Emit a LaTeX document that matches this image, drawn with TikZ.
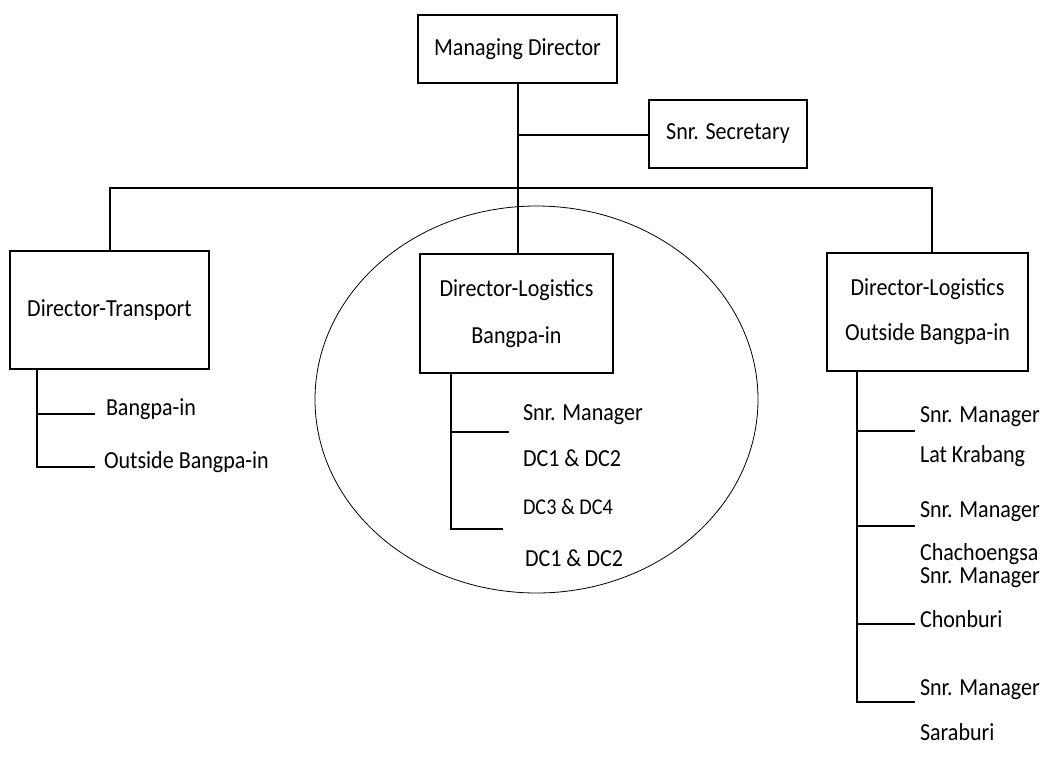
\documentclass[tikz,border=0pt]{standalone}
\usepackage{fontspec}
\setmainfont[FakeStretch=0.9]{Carlito}
\begin{document}
\begin{tikzpicture}[x=1pt,y=-1pt,
  every node/.style={font=\fontsize{24.5}{28}\selectfont, inner sep=0pt, outer sep=0pt},
  box/.style={draw, line width=1.1pt, align=center},
  lbl/.style={anchor=base west},
  small/.style={anchor=base west, font=\fontsize{22.5}{26}\selectfont},
  conn/.style={line width=1.1pt},
  oval/.style={line width=0.8pt}]
\useasboundingbox (0,0) rectangle (1052,763);
% oval around Bangpa-in logistics
\draw[oval] (536.5,399.5) ellipse [x radius=221.5pt, y radius=193.5pt];
% boxes
\node[box, minimum width=199pt, minimum height=68pt] (md) at (517.5,49) {Managing Director};
\node[box, minimum width=158pt, minimum height=68pt] (sec) at (728,134) {Snr. Secretary};
\node[box, minimum width=199pt, minimum height=118pt] (dt) at (109.5,310) {Director-Transport};
\node[box, minimum width=193pt, minimum height=119pt, font=\fontsize{24.5}{47}\selectfont] (dlb) at (516.5,313.5) {Director-Logistics\\Bangpa-in};
\node[box, minimum width=201pt, minimum height=118pt, font=\fontsize{24.5}{45}\selectfont] (dlo) at (927.5,312) {Director-Logistics\\Outside Bangpa-in};
% bus
\coordinate (busL) at (110,188);
\coordinate (busM) at (518,188);
\coordinate (busR) at (932,188);
\coordinate (secJ) at (518,135);
\draw[conn] (md.south -| busM) -- (dlb.north -| busM);
\draw[conn] (secJ) -- (sec.west |- secJ);
\draw[conn] (dt.north -| busL) -- (busL) -- (busR) -- (dlo.north -| busR);
% transport sub-units
\node[lbl] (t1) at (106,415) {Bangpa-in};
\node[lbl] (t2) at (104,468) {Outside Bangpa-in};
\coordinate (ta) at (37,414);
\coordinate (tb) at (37,467);
\draw[conn] (dt.south -| ta) -- (tb) -- (95,467);
\draw[conn] (ta) -- (95,414);
% Bangpa-in logistics sub-units
\node[lbl] (b1) at (523,420) {Snr. Manager};
\node[lbl] (b2) at (523,466) {DC1 \& DC2};
\node[small] (b3) at (523,514) {DC3 \& DC4};
\node[lbl] (b4) at (525,566) {DC1 \& DC2};
\coordinate (ba) at (451,432);
\coordinate (bb) at (451,529);
\draw[conn] (dlb.south -| ba) -- (bb) -- (503,529);
\draw[conn] (ba) -- (509,432);
% outside Bangpa-in sub-units
\node[lbl] (o1) at (920,422) {Snr. Manager};
\node[lbl] (o2) at (920,462) {Lat Krabang};
\node[lbl] (o3) at (920,517) {Snr. Manager};
\node[lbl] (o4) at (920,560) {Chachoengsa};
\node[lbl] (o5) at (920,583) {Snr. Manager};
\node[lbl] (o6) at (920,627) {Chonburi};
\node[lbl] (o7) at (920,695) {Snr. Manager};
\node[lbl] (o8) at (920,740) {Saraburi};
\coordinate (oa) at (857,431);
\coordinate (ob) at (857,526);
\coordinate (oc) at (857,624);
\coordinate (od) at (857,702);
\draw[conn] (dlo.south -| oa) -- (od) -- (915,702);
\draw[conn] (oa) -- (915,431);
\draw[conn] (ob) -- (915,526);
\draw[conn] (oc) -- (915,624);
\end{tikzpicture}
\end{document}
